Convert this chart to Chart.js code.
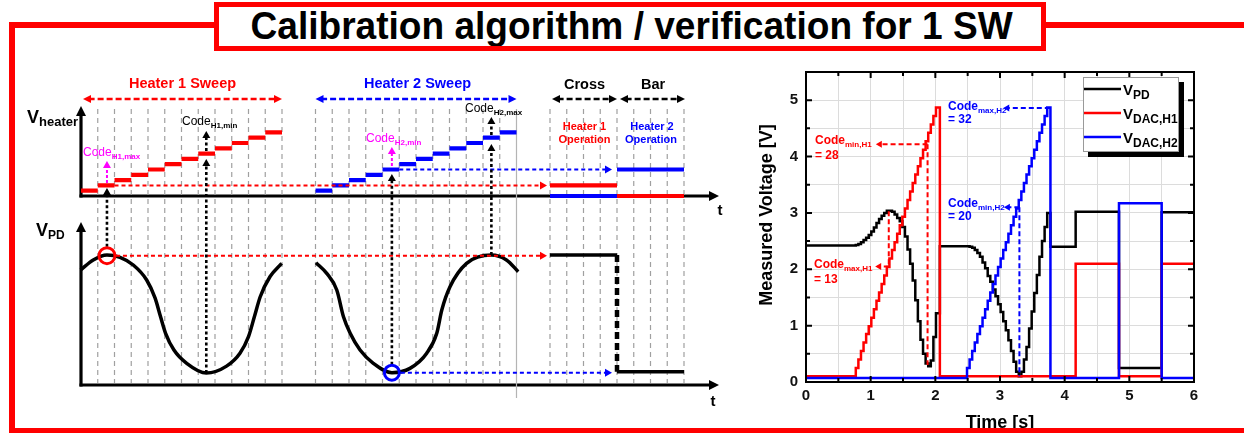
<!DOCTYPE html>
<html><head><meta charset="utf-8">
<script src="https://cdn.jsdelivr.net/npm/chart.js@4.4.1/dist/chart.umd.min.js"></script>
<style>
html,body{margin:0;padding:0;background:#fff}
body{position:relative;width:1244px;height:433px;overflow:hidden}
canvas{position:absolute}
#cl{left:0;top:0}
#cr{left:740px;top:55px}
.rl{position:absolute;background:#ff0000;z-index:4}
#tb{position:absolute;left:214px;top:2px;width:822px;height:39px;border:5px solid #ff0000;background:#fff;z-index:5;overflow:hidden}
#tt{position:absolute;top:0;left:0;white-space:nowrap;font-family:'Liberation Sans',Arial,sans-serif;font-weight:bold;font-size:38px;line-height:38px;color:#000;transform-origin:50% 50%}
</style></head><body>
<canvas id="cl" width="740" height="433"></canvas>
<canvas id="cr" width="504" height="378"></canvas>
<div class="rl" style="left:9px;top:22px;width:210px;height:6px"></div>
<div class="rl" style="left:1040px;top:22px;width:204px;height:6px"></div>
<div class="rl" style="left:9px;top:22px;width:6px;height:411px"></div>
<div class="rl" style="left:9px;top:428px;width:1235px;height:5px"></div>
<div id="tb"><span id="tt">Calibration algorithm / verification for 1 SW</span></div>
<script>
// ================= DATA: measured chart (right) =================
const timeGrid = [0,0.5,1,1.5,2,2.5,3,3.5,4,4.5,5,5.5,6];
const timeTicks = [0,1,2,3,4,5,6];
const voltGrid = [0,0.5,1,1.5,2,2.5,3,3.5,4,4.5,5,5.5];
const voltTicks = [0,1,2,3,4,5];
// DAC output voltage per code 1..32
const dacCodeVolts = [0.25,0.40,0.55,0.70,0.85,0.99,1.14,1.29,1.44,1.59,1.74,1.89,2.04,2.19,2.34,2.48,
                      2.63,2.78,2.93,3.08,3.23,3.38,3.53,3.68,3.83,3.97,4.12,4.27,4.42,4.57,4.72,4.87];
const h1SweepTimes = [0.77,0.81,0.85,0.89,0.93,0.97,1.01,1.05,1.09,1.13,1.17,1.21,1.25,1.29,1.33,1.37,
                      1.41,1.45,1.49,1.53,1.57,1.61,1.65,1.69,1.73,1.77,1.81,1.85,1.89,1.93,1.97,2.01];
const h2SweepTimes = [2.49,2.53,2.57,2.61,2.65,2.69,2.73,2.77,2.81,2.85,2.89,2.93,2.97,3.01,3.05,3.09,
                      3.13,3.17,3.21,3.25,3.29,3.33,3.37,3.41,3.45,3.49,3.53,3.57,3.61,3.65,3.69,3.73];
const pdDuringH1 = [2.43,2.45,2.48,2.52,2.56,2.61,2.67,2.74,2.82,2.89,2.95,3.00,3.04,3.04,3.02,2.97,
                    2.91,2.85,2.75,2.58,2.35,2.10,1.80,1.45,1.08,0.75,0.50,0.33,0.28,0.38,0.80,1.22];
const pdDuringH2 = [2.41,2.40,2.38,2.34,2.29,2.22,2.12,2.02,1.88,1.78,1.64,1.52,1.38,1.24,1.08,0.92,
                    0.74,0.55,0.36,0.18,0.10,0.18,0.40,0.62,0.95,1.25,1.58,1.90,2.22,2.50,2.75,3.00];
const pdBeforeT = [0.00], pdBeforeV = [2.42];
const pdBetweenT = [2.07], pdBetweenV = [2.41];
const pdAfterT = [3.78,4.17,4.84,5.50,6.00], pdAfterV = [2.40,3.02,0.25,3.01,3.01];
const h1BeforeT = [0.00], h1BeforeV = [0.10];
const h1AfterT = [2.07,4.17,4.84,5.50,6.00], h1AfterV = [0.10,2.10,0.10,2.10,2.10];
const h2BeforeT = [0.00], h2BeforeV = [0.07];
const h2AfterT = [3.78,4.84,5.50,6.00], h2AfterV = [0.07,3.17,0.07,0.07];

// ================= DATA: schematic (left) =================
// x unit = one DAC step slot, heater y unit = one code, PD y unit = arbitrary
const guideSlots = [1,2,3,4,5,6,7,8,9,10,11,12,14,15,16,17,18,19,20,21,22,23,24,25,28,29,30,31,32,33,34,35,36];
const sweepEndSlot = [26];
const h1Codes = [1,2,3,4,5,6,7,8,9,10,11,12];
const h2Codes = [1,2,3,4,5,6,7,8,9,10,11,12];
const h1StartSlot = 0, h2StartSlot = 14;
const pd1Slots = [-0.02,0.73,1.55,2.33,3.12,3.92,4.42,4.75,5.05,5.55,6.31,7.48,8.69,9.49,10.0,10.35,10.7,11.28,11.98];
const pd1Vals  = [8.85,9.62,10.0,9.82,9.23,8.08,6.70,5.25,3.98,2.69,1.67,0.92,1.45,2.44,3.72,5.25,6.79,8.33,9.36];
const pd2Slots = [14.03,14.67,15.27,15.67,16.07,16.66,17.45,18.56,19.64,20.64,21.24,21.54,22.03,23.02,24.5,25.4,26.1];
const pd2Vals  = [9.41,8.59,7.31,5.25,3.98,2.69,1.67,0.95,1.28,2.44,3.98,5.77,7.56,9.36,10.0,9.62,8.72];
const crossSlots = [28,32], barSlots = [32,36];
const crossH1Code = 2, barH2Code = 5;
const pdCross = 10.0, pdBar = 1.02;

// ================= helpers =================
const FONT = "'Liberation Sans', Arial, Helvetica, sans-serif";
const RED = '#ff0000', BLUE = '#0000ff', MAG = '#ff00ff', BLK = '#000000';
function zip(xs, ys){ return xs.map((x,i)=>({x:x, y:ys[i]})); }
function guideData(slots, top, bot){ const d=[]; slots.forEach(s=>{d.push({x:s,y:top},{x:s,y:bot},{x:s,y:null});}); return d; }
function stepData(start, levels){ const d=[]; levels.forEach((v,i)=>{d.push({x:start+i,y:v},{x:start+i+1,y:v},{x:start+i+1,y:null});}); return d; }
function head(ctx,x,y,ang,len,w,color){ ctx.save(); ctx.translate(x,y); ctx.rotate(ang); ctx.beginPath(); ctx.moveTo(0,0); ctx.lineTo(-len,-w); ctx.lineTo(-len,w); ctx.closePath(); ctx.fillStyle=color; ctx.fill(); ctx.restore(); }
function arrow(ctx,x1,y1,x2,y2,o){
  const len=o.len||8, w=o.w||4, ang=Math.atan2(y2-y1,x2-x1);
  let sx=x1,sy=y1,ex=x2,ey=y2;
  if(o.end){ ex-=Math.cos(ang)*len*0.7; ey-=Math.sin(ang)*len*0.7; }
  if(o.start){ sx+=Math.cos(ang)*len*0.7; sy+=Math.sin(ang)*len*0.7; }
  ctx.save(); ctx.strokeStyle=o.color; ctx.lineWidth=o.lw||2; ctx.setLineDash(o.dash||[]); ctx.lineCap='butt';
  ctx.beginPath(); ctx.moveTo(sx,sy); ctx.lineTo(ex,ey); ctx.stroke(); ctx.restore();
  if(o.end) head(ctx,x2,y2,ang,len,w,o.color);
  if(o.start) head(ctx,x1,y1,ang+Math.PI,len,w,o.color);
}
function subText(ctx,x,y,main,sub,mf,sf,color,dy){
  ctx.save(); ctx.fillStyle=color; ctx.textAlign='left'; ctx.textBaseline='alphabetic';
  ctx.font=mf; ctx.fillText(main,x,y); const w=ctx.measureText(main).width;
  ctx.font=sf; ctx.fillText(sub,x+w,y+dy); ctx.restore();
}
function ctext(ctx,s,x,y,font,color){ ctx.save(); ctx.font=font; ctx.fillStyle=color; ctx.textAlign='center'; ctx.textBaseline='alphabetic'; ctx.fillText(s,x,y); ctx.restore(); }

// ================= LEFT schematic chart =================
const SW=16.75, AX=81, HB=196, HU=5.3, PB=385, PU=13, LW=740, LH=433;
const leftDecor = {
  id:'leftDecor',
  beforeDatasetsDraw(chart){
    const ctx=chart.ctx, X=v=>chart.scales.x.getPixelForValue(v), YH=v=>chart.scales.yh.getPixelForValue(v), YP=v=>chart.scales.yp.getPixelForValue(v);
    const x0=X(0);
    ctx.save(); ctx.strokeStyle=BLK; ctx.lineWidth=3.2; ctx.lineCap='butt';
    // upper axes
    ctx.beginPath(); ctx.moveTo(x0,YH(0)+1.5); ctx.lineTo(x0,113); ctx.stroke(); head(ctx,x0,106,-Math.PI/2,10,5,BLK);
    ctx.beginPath(); ctx.moveTo(x0-1.5,YH(0)); ctx.lineTo(712,YH(0)); ctx.stroke(); head(ctx,719,YH(0),0,10,5,BLK);
    // lower axes
    ctx.beginPath(); ctx.moveTo(x0,YP(0)+1.5); ctx.lineTo(x0,229); ctx.stroke(); head(ctx,x0,222,-Math.PI/2,10,5,BLK);
    ctx.beginPath(); ctx.moveTo(x0-1.5,YP(0)); ctx.lineTo(712,YP(0)); ctx.stroke(); head(ctx,719,YP(0),0,10,5,BLK);
    ctx.restore();
  },
  afterDatasetsDraw(chart){
    const ctx=chart.ctx, X=v=>chart.scales.x.getPixelForValue(v), YH=v=>chart.scales.yh.getPixelForValue(v), YP=v=>chart.scales.yp.getPixelForValue(v);
    const hb='bold 14.5px '+FONT;
    // header arrows and labels
    arrow(ctx,X(0.12),99,X(12.0),99,{color:RED,lw:2.5,dash:[6,3],start:true,end:true,len:8,w:4});
    arrow(ctx,X(14.0),99,X(26.0),99,{color:BLUE,lw:2.5,dash:[6,3],start:true,end:true,len:8,w:4});
    arrow(ctx,552,99,617,99,{color:BLK,lw:2.5,dash:[6,3],start:true,end:true,len:8,w:4});
    arrow(ctx,620,99,685,99,{color:BLK,lw:2.5,dash:[6,3],start:true,end:true,len:8,w:4});
    ctext(ctx,'Heater 1 Sweep',182.5,88,hb,RED);
    ctext(ctx,'Heater 2 Sweep',417.5,88,hb,BLUE);
    ctext(ctx,'Cross',584.5,89,hb,BLK);
    ctext(ctx,'Bar',653,89,hb,BLK);
    ctext(ctx,'Heater 1',584.5,130,'bold 11px '+FONT,RED);
    ctext(ctx,'Operation',584.5,143,'bold 11px '+FONT,RED);
    ctext(ctx,'Heater 2',652,130,'bold 11px '+FONT,BLUE);
    ctext(ctx,'Operation',651,143,'bold 11px '+FONT,BLUE);
    // axis labels
    subText(ctx,27,123,'V','heater','bold 18px '+FONT,'bold 13px '+FONT,BLK,3);
    subText(ctx,36,236,'V','PD','bold 18px '+FONT,'bold 12px '+FONT,BLK,3);
    ctext(ctx,'t',720,215,'bold 15px '+FONT,BLK);
    ctext(ctx,'t',713,406,'bold 15px '+FONT,BLK);
    // level arrows
    arrow(ctx,X(2),YH(crossH1Code),547,YH(crossH1Code),{color:RED,lw:2,dash:[4,3],end:true,len:7,w:4});
    arrow(ctx,X(19),YH(barH2Code),612,YH(barH2Code),{color:BLUE,lw:2,dash:[4,3],end:true,len:7,w:4});
    arrow(ctx,X(1.55)+9,YP(9.95),547,YP(9.95),{color:RED,lw:2,dash:[4,3],end:true,len:7,w:4});
    arrow(ctx,X(18.56)+9,YP(0.95),612,YP(0.95),{color:BLUE,lw:2,dash:[4,3],end:true,len:7,w:4});
    // vertical code-pick arrows
    const bd={color:BLK,lw:2.6,dash:[3,2.5],end:true,len:7,w:4};
    arrow(ctx,X(1.55),YP(9.95)-9,X(1.55),188,bd);
    arrow(ctx,X(7.48),YP(0.92),X(7.48),159,bd);
    arrow(ctx,X(7.48),151,X(7.48),131,bd);
    arrow(ctx,X(18.56),YP(0.95)-8,X(18.56),174,bd);
    arrow(ctx,X(24.5),YP(10),X(24.5),144,bd);
    arrow(ctx,X(24.5),135,X(24.5),117,bd);
    const md={color:MAG,lw:2,dash:[3,2],end:true,len:7,w:4};
    arrow(ctx,X(1.55),183,X(1.55),161,md);
    arrow(ctx,X(18.56),166,X(18.56),147,md);
    // circles
    ctx.save(); ctx.lineWidth=3; ctx.setLineDash([]);
    ctx.strokeStyle=RED; ctx.beginPath(); ctx.arc(X(1.55),YP(9.95),8,0,Math.PI*2); ctx.stroke();
    ctx.strokeStyle=BLUE; ctx.beginPath(); ctx.arc(X(18.56),YP(0.95),7.5,0,Math.PI*2); ctx.stroke();
    ctx.restore();
    // code labels
    const cf='12px '+FONT, sf='bold 8px '+FONT;
    subText(ctx,83,156,'Code','H1,max',cf,sf,MAG,3);
    subText(ctx,182,125,'Code','H1,min',cf,sf,BLK,3);
    subText(ctx,366,142,'Code','H2,min',cf,sf,MAG,3);
    subText(ctx,465,112,'Code','H2,max',cf,sf,BLK,3);
  }
};
const lineBase={pointRadius:0,fill:false,tension:0,spanGaps:false,borderCapStyle:'butt'};
new Chart(document.getElementById('cl'),{
  type:'line',
  data:{datasets:[
    Object.assign({},lineBase,{data:guideData(guideSlots,16.4,-35.3),yAxisID:'yh',borderColor:'#a0a0a0',borderWidth:1.2,borderDash:[5,4],order:20}),
    Object.assign({},lineBase,{data:guideData(sweepEndSlot,16.4,-38.1),yAxisID:'yh',borderColor:'#b4b4b4',borderWidth:1.2,order:19}),
    Object.assign({},lineBase,{data:stepData(h1StartSlot,h1Codes),yAxisID:'yh',borderColor:RED,borderWidth:4.2,order:5}),
    Object.assign({},lineBase,{data:stepData(h2StartSlot,h2Codes),yAxisID:'yh',borderColor:BLUE,borderWidth:4.2,order:5}),
    Object.assign({},lineBase,{data:zip(crossSlots,[crossH1Code,crossH1Code]),yAxisID:'yh',borderColor:RED,borderWidth:4.2,order:5}),
    Object.assign({},lineBase,{data:zip(barSlots,[barH2Code,barH2Code]),yAxisID:'yh',borderColor:BLUE,borderWidth:4.2,order:5}),
    Object.assign({},lineBase,{data:zip(crossSlots,[0,0]),yAxisID:'yh',borderColor:BLUE,borderWidth:4.2,order:5}),
    Object.assign({},lineBase,{data:zip(barSlots,[0,0]),yAxisID:'yh',borderColor:RED,borderWidth:4.2,order:5}),
    Object.assign({},lineBase,{data:zip(pd1Slots,pd1Vals),yAxisID:'yp',borderColor:BLK,borderWidth:3.5,cubicInterpolationMode:'monotone',order:4}),
    Object.assign({},lineBase,{data:zip(pd2Slots,pd2Vals),yAxisID:'yp',borderColor:BLK,borderWidth:3.5,cubicInterpolationMode:'monotone',order:4}),
    Object.assign({},lineBase,{data:zip(crossSlots,[pdCross,pdCross]),yAxisID:'yp',borderColor:BLK,borderWidth:3.5,order:4}),
    Object.assign({},lineBase,{data:zip([crossSlots[1],crossSlots[1]],[pdCross,pdBar]),yAxisID:'yp',borderColor:BLK,borderWidth:4.5,borderDash:[7,4],order:4}),
    Object.assign({},lineBase,{data:zip(barSlots,[pdBar,pdBar]),yAxisID:'yp',borderColor:BLK,borderWidth:3.5,order:4})
  ]},
  options:{
    responsive:false,animation:false,events:[],
    layout:{padding:0},
    plugins:{legend:{display:false},tooltip:{enabled:false}},
    scales:{
      x:{type:'linear',display:false,min:-AX/SW,max:(LW-AX)/SW},
      yh:{type:'linear',display:false,min:-(LH-HB)/HU,max:HB/HU},
      yp:{type:'linear',display:false,min:-(LH-PB)/PU,max:PB/PU}
    }
  },
  plugins:[leftDecor]
});

// ================= RIGHT measured chart =================
const pdPts = zip(pdBeforeT,pdBeforeV).concat(zip(h1SweepTimes,pdDuringH1),zip(pdBetweenT,pdBetweenV),zip(h2SweepTimes,pdDuringH2),zip(pdAfterT,pdAfterV));
const h1Pts = zip(h1BeforeT,h1BeforeV).concat(zip(h1SweepTimes,dacCodeVolts),zip(h1AfterT,h1AfterV));
const h2Pts = zip(h2BeforeT,h2BeforeV).concat(zip(h2SweepTimes,dacCodeVolts),zip(h2AfterT,h2AfterV));

const rightDecor = {
  id:'rightDecor',
  afterDatasetsDraw(chart){
    const ctx=chart.ctx, a=chart.chartArea, sx=chart.scales.x, sy=chart.scales.y;
    const PX=v=>sx.getPixelForValue(v), PY=v=>sy.getPixelForValue(v);
    // annotations
    const rd={color:RED,lw:2,dash:[5,3]}, bd={color:BLUE,lw:2,dash:[5,3]};
    arrow(ctx,PX(1.28),PY(3.03),PX(1.28),PY(2.05),rd);
    arrow(ctx,PX(1.28),PY(2.05),PX(1.07),PY(2.05),Object.assign({end:true,len:6,w:3.5},rd));
    arrow(ctx,PX(1.88),PY(4.22),PX(1.88),PY(0.30),rd);
    arrow(ctx,PX(1.88),PY(4.22),PX(1.08),PY(4.22),Object.assign({end:true,len:6,w:3.5},rd));
    arrow(ctx,PX(3.77),PY(4.86),PX(3.05),PY(4.86),Object.assign({end:true,len:6,w:3.5},bd));
    arrow(ctx,PX(3.30),PY(3.10),PX(3.30),PY(0.10),bd);
    arrow(ctx,PX(3.30),PY(3.10),PX(3.06),PY(3.10),Object.assign({end:true,len:6,w:3.5},bd));
    const cf='bold 12px '+FONT, sf='bold 8px '+FONT;
    subText(ctx,75,89,'Code','min,H1',cf,sf,RED,3);  ctext(ctx,'',0,0,cf,RED);
    subText(ctx,75,104,'= 28','',cf,sf,RED,0);
    subText(ctx,74,213,'Code','max,H1',cf,sf,RED,3);
    subText(ctx,74,228,'= 13','',cf,sf,RED,0);
    subText(ctx,208,55,'Code','max,H2',cf,sf,BLUE,3);
    subText(ctx,208,68,'= 32','',cf,sf,BLUE,0);
    subText(ctx,208,152,'Code','min,H2',cf,sf,BLUE,3);
    subText(ctx,208,165,'= 20','',cf,sf,BLUE,0);
  },
  afterDraw(chart){
    const ctx=chart.ctx, a=chart.chartArea, sx=chart.scales.x, sy=chart.scales.y;
    ctx.save();
    ctx.setLineDash([]); ctx.strokeStyle='#000'; ctx.lineWidth=2;
    ctx.strokeRect(a.left,a.top,a.right-a.left,a.bottom-a.top);
    ctx.beginPath();
    timeGrid.forEach(v=>{ const p=sx.getPixelForValue(v), L=Number.isInteger(v)?6:4; ctx.moveTo(p,a.bottom); ctx.lineTo(p,a.bottom-L); ctx.moveTo(p,a.top); ctx.lineTo(p,a.top+L); });
    voltGrid.forEach(v=>{ const p=sy.getPixelForValue(v), L=Number.isInteger(v)?6:4; ctx.moveTo(a.left,p); ctx.lineTo(a.left+L,p); ctx.moveTo(a.right,p); ctx.lineTo(a.right-L,p); });
    ctx.stroke();
    // legend
    ctx.fillStyle='#000'; ctx.fillRect(348,27,96,75);
    ctx.fillStyle='#fff'; ctx.fillRect(343,22,96,75);
    ctx.strokeStyle='#9a9a9a'; ctx.lineWidth=1; ctx.strokeRect(343.5,22.5,95,74);
    const items=[['PD',BLK,34],['DAC,H1',RED,58],['DAC,H2',BLUE,82]];
    items.forEach(it=>{
      ctx.strokeStyle=it[1]; ctx.lineWidth=2.5; ctx.beginPath(); ctx.moveTo(344,it[2]); ctx.lineTo(381,it[2]); ctx.stroke();
      subText(ctx,383,it[2]+6,'V',it[0],'bold 15px '+FONT,'bold 12px '+FONT,'#000',4);
    });
    // axis titles
    ctx.save(); ctx.translate(27,160); ctx.rotate(-Math.PI/2);
    ctx.font='bold 18px '+FONT; ctx.fillStyle='#000'; ctx.textAlign='center'; ctx.textBaseline='middle';
    ctx.fillText('Measured Voltage [V]',0,0); ctx.restore();
    ctext(ctx,'Time [s]',260,373,'bold 18px '+FONT,'#000');
    ctx.restore();
  }
};
const tickFont={family:FONT,weight:'bold',size:15};
new Chart(document.getElementById('cr'),{
  type:'line',
  data:{datasets:[
    Object.assign({},lineBase,{label:'V_PD',data:pdPts,borderColor:BLK,borderWidth:2.5,stepped:true,order:3}),
    Object.assign({},lineBase,{label:'V_DAC,H1',data:h1Pts,borderColor:RED,borderWidth:2.5,stepped:true,order:2}),
    Object.assign({},lineBase,{label:'V_DAC,H2',data:h2Pts,borderColor:BLUE,borderWidth:2.5,stepped:true,order:1})
  ]},
  options:{
    responsive:false,animation:false,events:[],
    layout:{padding:{top:14,right:50,left:0,bottom:0}},
    plugins:{legend:{display:false},tooltip:{enabled:false}},
    scales:{
      x:{type:'linear',min:0,max:6,
         afterBuildTicks:s=>{s.ticks=timeGrid.map(v=>({value:v}));},
         afterFit:s=>{s.height=51;},
         ticks:{autoSkip:false,maxRotation:0,padding:5,color:'#111',font:tickFont,callback:v=>timeTicks.includes(v)?String(v):''},
         grid:{color:'#dcdcdc',lineWidth:1,drawTicks:false},border:{display:false}},
      y:{type:'linear',min:0,max:5.5,
         afterBuildTicks:s=>{s.ticks=voltGrid.map(v=>({value:v}));},
         afterFit:s=>{s.width=66;},
         ticks:{autoSkip:false,padding:8,color:'#111',font:tickFont,callback:v=>voltTicks.includes(v)?String(v):''},
         grid:{color:'#dcdcdc',lineWidth:1,drawTicks:false},border:{display:false}}
    }
  },
  plugins:[rightDecor]
});

// ================= title fit =================
(function(){
  const t=document.getElementById('tt');
  const w=t.offsetWidth;
  t.style.left=(412-w/2)+'px';
  t.style.transform='scaleX('+(762/w)+')';
})();
</script></body></html>
